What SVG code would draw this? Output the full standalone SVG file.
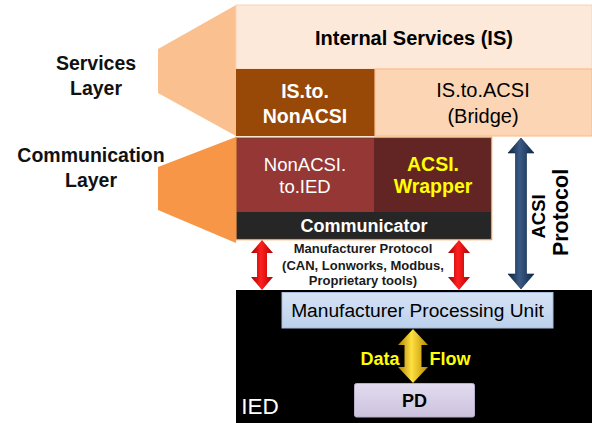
<svg xmlns="http://www.w3.org/2000/svg" width="592" height="423" viewBox="0 0 592 423">
<defs>
<linearGradient id="gRed" x1="0" y1="0" x2="1" y2="0">
<stop offset="0" stop-color="#A00000"/><stop offset="0.45" stop-color="#FF2020"/><stop offset="1" stop-color="#B00000"/>
</linearGradient>
<linearGradient id="gNavy" x1="0" y1="0" x2="1" y2="0">
<stop offset="0" stop-color="#0E2440"/><stop offset="0.45" stop-color="#3A5A85"/><stop offset="1" stop-color="#10284A"/>
</linearGradient>
<linearGradient id="gGold" x1="0" y1="0" x2="1" y2="0">
<stop offset="0" stop-color="#B08000"/><stop offset="0.45" stop-color="#FFE040"/><stop offset="1" stop-color="#B88A00"/>
</linearGradient>
<linearGradient id="gBlue" x1="0" y1="0" x2="0" y2="1">
<stop offset="0" stop-color="#D6E3F5"/><stop offset="1" stop-color="#BCD0EC"/>
</linearGradient>
<linearGradient id="gLav" x1="0" y1="0" x2="0" y2="1">
<stop offset="0" stop-color="#E2DCEF"/><stop offset="1" stop-color="#CCC2DE"/>
</linearGradient>
</defs>
<style>
text{font-family:"Liberation Sans",Arial,sans-serif;text-anchor:middle}
.b{font-weight:bold}
.w{fill:#FFFFFF}
.k{fill:#000000}
.y{fill:#FFFF00}
.lbl{font-size:19.5px;font-weight:bold;fill:#111111}
</style>

<g id="services-layer">
<polygon points="236,5 236,136 158,93 158,49" fill="#FAC090"/>
<text class="lbl" x="96" y="70">Services</text>
<text class="lbl" x="96" y="95">Layer</text>
</g>

<g id="communication-layer">
<polygon points="236,137 236,243 158,210 158,167" fill="#F79646"/>
<text class="lbl" x="91" y="162">Communication</text>
<text class="lbl" x="91" y="187">Layer</text>
</g>

<g id="internal-services">
<rect x="236" y="5" width="356" height="64" fill="#FDE9D9" stroke="#FAD3B8" stroke-width="1"/>
<text class="b k" x="414" y="45" font-size="20">Internal Services (IS)</text>
</g>

<g id="is-to-nonacsi">
<rect x="236" y="69" width="139" height="67" fill="#984807"/>
<text class="b w" x="305" y="98" font-size="19.5">IS.to.</text>
<text class="b w" x="305" y="123" font-size="19.5">NonACSI</text>
</g>

<g id="is-to-acsi">
<rect x="375" y="69" width="217" height="67" fill="#FCD5B5" stroke="#FAC090" stroke-width="1.2"/>
<text class="k" x="483" y="97" font-size="20">IS.to.ACSI</text>
<text class="k" x="483" y="123" font-size="20">(Bridge)</text>
</g>

<g id="communication-frame">
<rect x="236" y="137.5" width="255.5" height="102" fill="#262626" stroke="#F79646" stroke-width="1.5"/>
</g>

<g id="nonacsi-to-ied">
<rect x="236.8" y="138.3" width="137.2" height="73.7" fill="#953735"/>
<text class="w" x="305" y="171" font-size="18.5">NonACSI.</text>
<text class="w" x="305" y="193" font-size="18.5">to.IED</text>
</g>

<g id="acsi-wrapper">
<rect x="374" y="138.3" width="116.7" height="73.7" fill="#632523"/>
<text class="b y" x="433" y="171" font-size="19.5">ACSI.</text>
<text class="b y" x="433" y="193" font-size="19.5">Wrapper</text>
</g>

<g id="communicator">
<rect x="236.8" y="212" width="253.9" height="26.8" fill="#262626"/>
<text class="b w" x="364" y="232" font-size="18">Communicator</text>
</g>

<g id="ied">
<rect x="236" y="290" width="356" height="133" fill="#000000"/>
<text class="w" x="260" y="414" font-size="22.5">IED</text>
</g>

<g id="manufacturer-processing-unit">
<rect x="282" y="292.5" width="271" height="35.5" fill="url(#gBlue)" stroke="#A9BEDC" stroke-width="1"/>
<text class="k" x="417.5" y="317" font-size="19.2">Manufacturer Processing Unit</text>
</g>

<g id="pd">
<rect x="354.5" y="383.5" width="120" height="33.5" rx="2" fill="url(#gLav)" stroke="#B8AECB" stroke-width="1"/>
<text class="b k" x="414.5" y="407" font-size="18">PD</text>
</g>

<g id="connectors">
<path d="M521,138 L534,153 L526.5,153 L526.5,274 L534,274 L521,289 L508,274 L515.5,274 L515.5,153 L508,153 Z" fill="url(#gNavy)" stroke="#0E2440" stroke-width="0.6"/>
<path d="M262,240 L273,253 L267,253 L267,277 L273,277 L262,290 L251,277 L257,277 L257,253 L251,253 Z" fill="url(#gRed)"/>
<path d="M459,240 L470,253 L464,253 L464,277 L470,277 L459,290 L448,277 L454,277 L454,253 L448,253 Z" fill="url(#gRed)"/>
<path d="M413,329 L428,345 L421.5,345 L421.5,367 L428,367 L413,383 L398,367 L404.5,367 L404.5,345 L398,345 Z" fill="url(#gGold)"/>
<text class="b k" x="0" y="0" font-size="18.5" transform="translate(545,216.5) rotate(-90)">ACSI</text>
<text class="b k" x="0" y="0" font-size="21.5" transform="translate(568,212.5) rotate(-90)">Protocol</text>
<text class="b" x="363" y="253" font-size="13" fill="#1A1A1A">Manufacturer Protocol</text>
<text class="b" x="363" y="270" font-size="13" fill="#1A1A1A">(CAN, Lonworks, Modbus,</text>
<text class="b" x="363" y="285" font-size="13" fill="#1A1A1A">Proprietary tools)</text>
<text class="b y" x="380" y="365" font-size="18">Data</text>
<text class="b y" x="450" y="365" font-size="18">Flow</text>
</g>
</svg>
